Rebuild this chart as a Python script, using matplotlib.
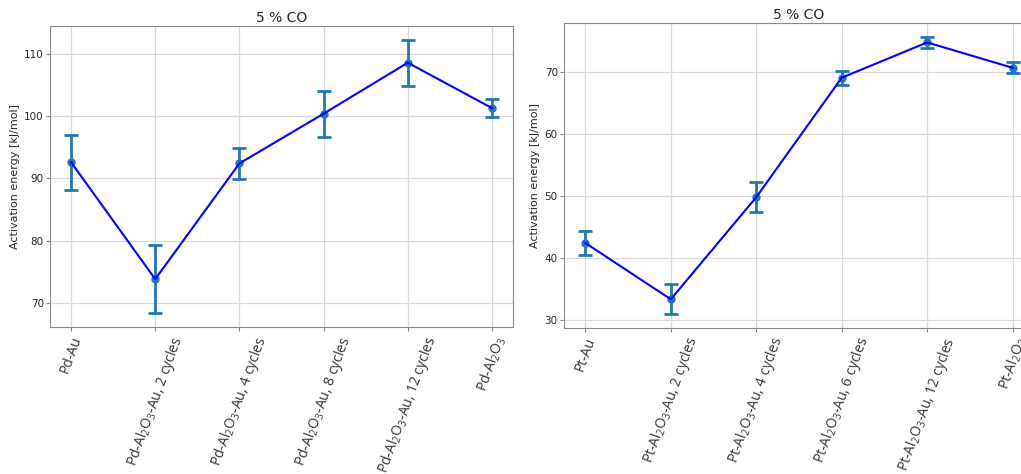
import numpy as np
import matplotlib
matplotlib.use("Agg")
import matplotlib.pyplot as plt

plt.rcParams['mathtext.fontset'] = 'custom'
plt.rcParams['mathtext.rm'] = 'Open Sans'
plt.rcParams['mathtext.it'] = 'Open Sans'

# Pd series
pd_labels = ["Pd-Au", "Pd-Al$_2$O$_3$-Au, 2 cycles", "Pd-Al$_2$O$_3$-Au, 4 cycles",
             "Pd-Al$_2$O$_3$-Au, 8 cycles", "Pd-Al$_2$O$_3$-Au, 12 cycles", "Pd-Al$_2$O$_3$"]
pd_energy = [92.6, 73.8, 92.4, 100.4, 108.6, 101.3]
pd_err = [4.4, 5.5, 2.5, 3.7, 3.7, 1.5]

# Pt series
pt_labels = ["Pt-Au", "Pt-Al$_2$O$_3$-Au, 2 cycles", "Pt-Al$_2$O$_3$-Au, 4 cycles",
             "Pt-Al$_2$O$_3$-Au, 6 cycles", "Pt-Al$_2$O$_3$-Au, 12 cycles", "Pt-Al$_2$O$_3$"]
pt_energy = [42.4, 33.3, 49.8, 69.1, 74.8, 70.7]
pt_err = [1.95, 2.4, 2.4, 1.1, 0.9, 0.9]

W, H = 1021, 474
fig = plt.figure(figsize=(W / 100, H / 100), dpi=100)

ax1 = fig.add_axes([50 / W, (H - 327) / H, 463 / W, 301 / H])
ax2 = fig.add_axes([564 / W, (H - 328) / H, 470 / W, 305 / H])


def draw(ax, labels, energy, err):
    x = np.arange(len(labels))
    ax.errorbar(x, energy, yerr=err, fmt='o', color='#1f77b4', markersize=5,
                elinewidth=2, capsize=5, capthick=2, zorder=2)
    ax.plot(x, energy, color='blue', linewidth=1.5, zorder=3)
    ax.set_xticks(x)
    ax.set_xticklabels(labels, rotation=70, ha='center', fontsize=10,
                       family='Open Sans', color='#333333')
    ax.tick_params(axis='y', labelsize=7.5, labelcolor='#262626', color='#888888',
                   length=3, pad=1.5)
    ax.tick_params(axis='x', color='#888888', length=3, pad=2)
    ax.grid(True, color='#d9d9d9', linewidth=0.9)
    ax.set_axisbelow(True)
    for s in ax.spines.values():
        s.set_color('#888888')
    ax.set_ylabel("Activation energy [kJ/mol]", fontsize=8, color='#262626', labelpad=3)
    ax.set_title("5 % CO", fontsize=10, color='#262626', pad=3)


draw(ax1, pd_labels, pd_energy, pd_err)
draw(ax2, pt_labels, pt_energy, pt_err)

ax1.set_yticks([70, 80, 90, 100, 110])
ax2.set_yticks([30, 40, 50, 60, 70])

fig.savefig("out.png", dpi=100)
